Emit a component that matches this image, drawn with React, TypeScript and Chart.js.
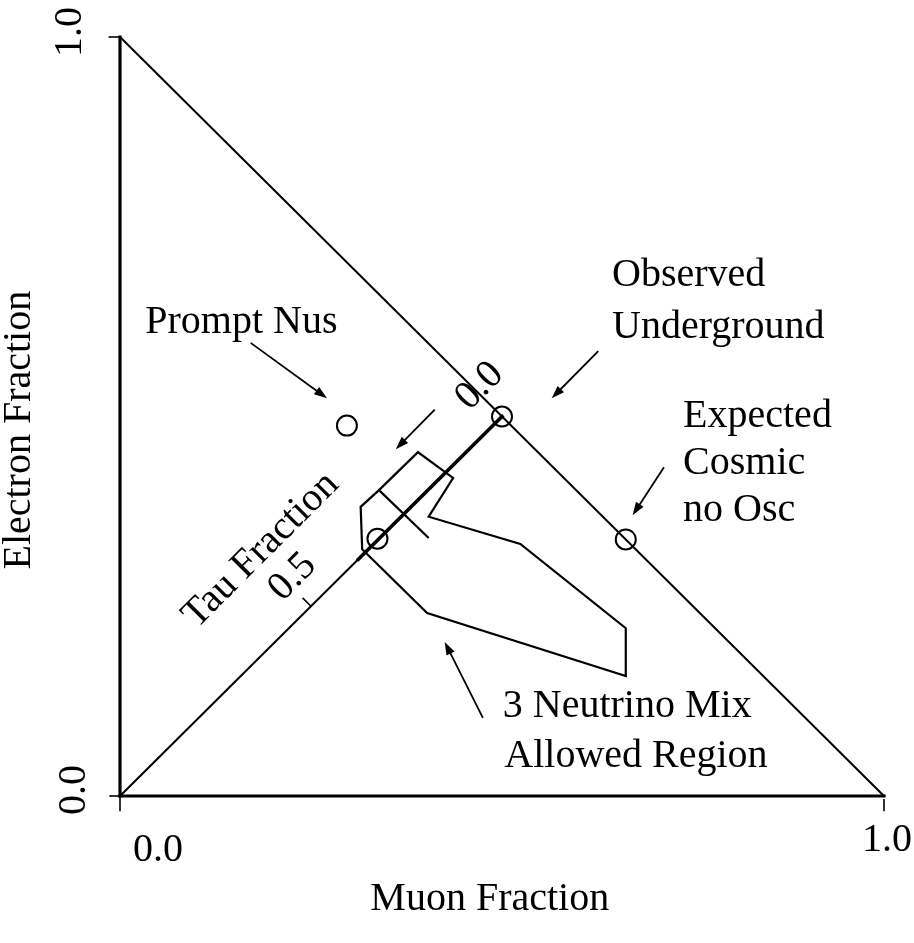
import React, { useEffect, useRef } from "react";
import { Chart, registerables } from "chart.js";

Chart.register(...registerables);

// ---- data (muon fraction = x, electron fraction = y) ----
const triangleMuon = [0, 1, 0, 0];
const triangleElectron = [0, 0, 1, 0];

const tauAxisMuon = [0, 0.5];
const tauAxisElectron = [0, 0.5];
const tauThickMuon = [0.5, 0.312];
const tauThickElectron = [0.5, 0.312];

const regionMuon = [0.39, 0.436, 0.404, 0.524, 0.662, 0.662, 0.402, 0.317, 0.315, 0.339, 0.39];
const regionElectron = [0.453, 0.419, 0.368, 0.332, 0.221, 0.158, 0.241, 0.325, 0.381, 0.403, 0.453];
const innerMuon = [0.339, 0.403];
const innerElectron = [0.403, 0.341];

const pointNames = ["Prompt Nus", "Observed Underground", "Expected Cosmic no Osc", "Tau 2/3"];
const pointMuon = [0.297, 0.5, 0.662, 0.337];
const pointElectron = [0.488, 0.5, 0.338, 0.339];

// arrows
const arrowFromMuon = [0.171, 0.626, 0.712, 0.412, 0.475];
const arrowFromElectron = [0.597, 0.586, 0.433, 0.509, 0.103];
const arrowToMuon = [0.271, 0.565, 0.671, 0.361, 0.425];
const arrowToElectron = [0.524, 0.524, 0.37, 0.457, 0.203];

// text labels (left aligned, baseline)
const labelTexts = [
  "Prompt Nus",
  "Observed",
  "Underground",
  "Expected",
  "Cosmic",
  "no Osc",
  "3 Neutrino Mix",
  "Allowed Region",
];
const labelMuon = [0.033, 0.644, 0.644, 0.737, 0.737, 0.737, 0.501, 0.503];
const labelElectron = [0.61, 0.672, 0.603, 0.486, 0.424, 0.362, 0.104, 0.038];

// rotated / tick labels (centered)
const tickTexts = ["1.0", "0.0", "0.0", "1.0", "Tau Fraction", "0.5", "0.0", "Electron Fraction", "Muon Fraction"];
const tickMuon = [-0.0654, -0.059, 0.0497, 1.004, 0.1846, 0.226, 0.471, -0.131, 0.484];
const tickElectron = [1.0066, 0.008, -0.072, -0.059, 0.324, 0.2885, 0.54, 0.482, -0.137];
const tickAngles = [-90, -90, 0, 0, -45, -45, -45, -90, 0];

// small tick marks
const tickMarkFromMuon = [-0.015, -0.014, 0, 1, 0.25];
const tickMarkFromElectron = [1, 0, 0, -0.004, 0.25];
const tickMarkToMuon = [0, 0, 0, 1, 0.239];
const tickMarkToElectron = [1, 0, -0.02, -0.02, 0.261];

const pts = (xs: number[], ys: number[]) => xs.map((x, i) => ({ x, y: ys[i] }));

const FONT = '40px "Liberation Serif", serif';

const overlayPlugin = {
  id: "overlay",
  afterDatasetsDraw(chart: any) {
    const { ctx, scales } = chart;
    const xs = scales.x;
    const ys = scales.y;
    const px = (v: number) => xs.getPixelForValue(v);
    const py = (v: number) => ys.getPixelForValue(v);
    ctx.save();
    ctx.strokeStyle = "#000";
    ctx.fillStyle = "#000";

    ctx.lineWidth = 1.6;
    for (let i = 0; i < tickMarkFromMuon.length; i++) {
      ctx.beginPath();
      ctx.moveTo(px(tickMarkFromMuon[i]), py(tickMarkFromElectron[i]));
      ctx.lineTo(px(tickMarkToMuon[i]), py(tickMarkToElectron[i]));
      ctx.stroke();
    }

    for (let i = 0; i < arrowFromMuon.length; i++) {
      const x1 = px(arrowFromMuon[i]);
      const y1 = py(arrowFromElectron[i]);
      const x2 = px(arrowToMuon[i]);
      const y2 = py(arrowToElectron[i]);
      const a = Math.atan2(y2 - y1, x2 - x1);
      const L = 13;
      const W = 4.5;
      ctx.lineWidth = 1.8;
      ctx.beginPath();
      ctx.moveTo(x1, y1);
      ctx.lineTo(x2 - Math.cos(a) * L * 0.6, y2 - Math.sin(a) * L * 0.6);
      ctx.stroke();
      ctx.beginPath();
      ctx.moveTo(x2, y2);
      ctx.lineTo(x2 - Math.cos(a) * L + Math.sin(a) * W, y2 - Math.sin(a) * L - Math.cos(a) * W);
      ctx.lineTo(x2 - Math.cos(a) * L - Math.sin(a) * W, y2 - Math.sin(a) * L + Math.cos(a) * W);
      ctx.closePath();
      ctx.fill();
    }

    ctx.font = FONT;
    ctx.textAlign = "left";
    ctx.textBaseline = "alphabetic";
    for (let i = 0; i < labelTexts.length; i++) {
      ctx.fillText(labelTexts[i], px(labelMuon[i]), py(labelElectron[i]));
    }

    ctx.textAlign = "center";
    ctx.textBaseline = "middle";
    for (let i = 0; i < tickTexts.length; i++) {
      ctx.save();
      ctx.translate(px(tickMuon[i]), py(tickElectron[i]));
      ctx.rotate((tickAngles[i] * Math.PI) / 180);
      ctx.fillText(tickTexts[i], 0, 0);
      ctx.restore();
    }
    ctx.restore();
  },
};

export default function App() {
  const ref = useRef<HTMLCanvasElement>(null);
  useEffect(() => {
    if (!ref.current) return;
    const line = (data: any[], width: number) => ({
      data,
      showLine: true,
      borderColor: "#000",
      backgroundColor: "#000",
      borderWidth: width,
      pointRadius: 0,
      tension: 0,
      clip: false,
      borderJoinStyle: "miter",
      borderCapStyle: "square",
    });
    const tri = pts(triangleMuon, triangleElectron);
    const chart = new Chart(ref.current, {
      type: "scatter",
      data: {
        datasets: [
          line([tri[0], tri[2]], 3.2) as any,
          line([tri[0], tri[1]], 3.2) as any,
          line([tri[1], tri[2]], 2) as any,
          line(pts(tauAxisMuon, tauAxisElectron), 2) as any,
          line(pts(tauThickMuon, tauThickElectron), 3.6) as any,
          line(pts(regionMuon, regionElectron), 2.2) as any,
          line(pts(innerMuon, innerElectron), 2.2) as any,
          {
            label: "points",
            data: pts(pointMuon, pointElectron),
            showLine: false,
            pointRadius: 10,
            pointStyle: "circle",
            pointBorderWidth: 2,
            pointBorderColor: "#000",
            pointBackgroundColor: "rgba(0,0,0,0)",
            clip: false,
          } as any,
        ],
      },
      options: {
        animation: false,
        responsive: false,
        maintainAspectRatio: false,
        layout: { padding: { left: 120, right: 30, top: 37, bottom: 147 } },
        scales: {
          x: { type: "linear", min: 0, max: 1, display: false },
          y: { type: "linear", min: 0, max: 1, display: false },
        },
        plugins: { legend: { display: false }, tooltip: { enabled: false } },
        events: [],
      },
      plugins: [overlayPlugin],
    });
    return () => chart.destroy();
  }, []);
  return (
    <div style={{ position: "absolute", left: 0, top: 0, width: 914, height: 943, background: "#fff" }}>
      <canvas ref={ref} width={914} height={943} style={{ width: 914, height: 943, display: "block" }} />
    </div>
  );
}
